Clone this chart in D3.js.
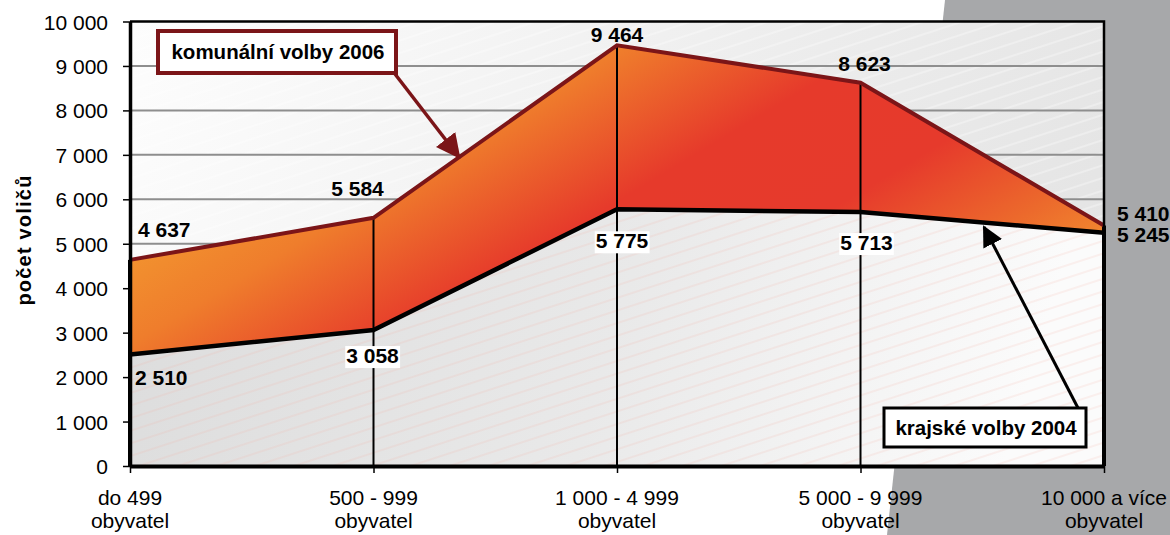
<!DOCTYPE html>
<html>
<head>
<meta charset="utf-8">
<script src="https://cdn.jsdelivr.net/npm/d3@7"></script>
<style>
  html, body { margin: 0; padding: 0; background: #fff; }
  svg { display: block; font-family: "Liberation Sans", Arial, sans-serif; }
</style>
</head>
<body>
<div id="chart"></div>
<script>
// Data
const categories = ["do 499", "500 - 999", "1 000 - 4 999", "5 000 - 9 999", "10 000 a více"];
const categoryUnit = "obyvatel";
const komunalni2006 = [4637, 5584, 9464, 8623, 5410];
const krajske2004 = [2510, 3058, 5775, 5713, 5245];
const yTicks = [0, 1000, 2000, 3000, 4000, 5000, 6000, 7000, 8000, 9000, 10000];
const yTitle = "počet voličů";
const seriesNames = ["komunální volby 2006", "krajské volby 2004"];

// Umístění popisků (ručně jako v Excelu)
const upperLabelPos = [
  { dx: 8, dy: -23, anchor: "start" },
  { dx: -16, dy: -22, anchor: "middle" },
  { dx: 0, dy: -3, anchor: "middle" },
  { dx: 4, dy: -12, anchor: "middle" },
  { dx: 13, dy: -5, anchor: "start" }
];
const lowerLabelPos = [
  { dx: 5, dy: 31, anchor: "start", box: false },
  { dx: -1, dy: 33, anchor: "middle", box: true },
  { dx: 5, dy: 39, anchor: "middle", box: true },
  { dx: 6, dy: 38, anchor: "middle", box: true },
  { dx: 13, dy: 9, anchor: "start", box: false }
];

const W = 1170, H = 535;
const plotLeft = 130, plotRight = 1104, plotTop = 21.5, plotBottom = 466;

const svg = d3.select("#chart").append("svg")
  .attr("width", W).attr("height", H);

const locale = d3.formatLocale({ decimal: ",", thousands: " ", grouping: [3], currency: ["", " Kč"] });
const fmt = locale.format(",d");

const x = d3.scalePoint().domain(categories).range([plotLeft, plotRight]).padding(0);
const y = d3.scaleLinear().domain([0, 10000]).range([plotBottom, plotTop]);

// Definice přechodů a vzorů
const defs = svg.append("defs");

const bgGrad = defs.append("linearGradient").attr("id", "bgGrad")
  .attr("gradientUnits", "userSpaceOnUse")
  .attr("x1", plotLeft).attr("y1", plotTop).attr("x2", plotRight).attr("y2", plotBottom);
bgGrad.append("stop").attr("offset", 0).attr("stop-color", "#fdfdfd");
bgGrad.append("stop").attr("offset", 0.6).attr("stop-color", "#ececec");
bgGrad.append("stop").attr("offset", 1).attr("stop-color", "#e2e2e2");

const lowGrad = defs.append("linearGradient").attr("id", "lowGrad")
  .attr("gradientUnits", "userSpaceOnUse")
  .attr("x1", plotLeft).attr("y1", y(6000)).attr("x2", plotRight - 100).attr("y2", plotBottom);
lowGrad.append("stop").attr("offset", 0).attr("stop-color", "#dcdcdc");
lowGrad.append("stop").attr("offset", 0.55).attr("stop-color", "#e9e9e9");
lowGrad.append("stop").attr("offset", 1).attr("stop-color", "#fbfbfb");

const bandGrad = defs.append("linearGradient").attr("id", "bandGrad")
  .attr("gradientUnits", "userSpaceOnUse")
  .attr("x1", 500).attr("y1", 0).attr("x2", 800).attr("y2", 500);
bandGrad.append("stop").attr("offset", 0).attr("stop-color", "#f39a30");
bandGrad.append("stop").attr("offset", 0.18).attr("stop-color", "#ef7d2c");
bandGrad.append("stop").attr("offset", 0.4).attr("stop-color", "#e63a2b");
bandGrad.append("stop").attr("offset", 0.6).attr("stop-color", "#e63a2c");
bandGrad.append("stop").attr("offset", 0.78).attr("stop-color", "#ec6a2c");
bandGrad.append("stop").attr("offset", 0.92).attr("stop-color", "#f39230");

const hatch = defs.append("pattern").attr("id", "hatch")
  .attr("patternUnits", "userSpaceOnUse")
  .attr("width", 24).attr("height", 12)
  .attr("patternTransform", "rotate(-18)");
hatch.append("line").attr("x1", 0).attr("x2", 24).attr("y1", 6).attr("y2", 6)
  .attr("stroke", "#f2b0a0").attr("stroke-width", 0.8).attr("opacity", 0.4);

const hatchBg = defs.append("pattern").attr("id", "hatchBg")
  .attr("patternUnits", "userSpaceOnUse")
  .attr("width", 24).attr("height", 12)
  .attr("patternTransform", "rotate(-18)");
hatchBg.append("line").attr("x1", 0).attr("x2", 24).attr("y1", 6).attr("y2", 6)
  .attr("stroke", "#ffffff").attr("stroke-width", 1).attr("opacity", 0.6);

const arrowRed = defs.append("marker").attr("id", "arrowRed")
  .attr("viewBox", "0 0 10 10").attr("refX", 9).attr("refY", 5)
  .attr("markerWidth", 7).attr("markerHeight", 7).attr("markerUnits", "strokeWidth")
  .attr("orient", "auto");
arrowRed.append("path").attr("d", "M0,0L10,5L0,10z").attr("fill", "#7b1518");

const arrowBlack = defs.append("marker").attr("id", "arrowBlack")
  .attr("viewBox", "0 0 10 10").attr("refX", 9).attr("refY", 5)
  .attr("markerWidth", 7).attr("markerHeight", 7).attr("markerUnits", "strokeWidth")
  .attr("orient", "auto");
arrowBlack.append("path").attr("d", "M0,0L10,5L0,10z").attr("fill", "#000");

// Šedé pozadí vpravo
svg.append("path")
  .attr("d", "M945,0L1170,0L1170,535L887,535Z")
  .attr("fill", "#a7a8aa");

// Plocha grafu
svg.append("rect").attr("x", plotLeft).attr("y", plotTop)
  .attr("width", plotRight - plotLeft).attr("height", plotBottom - plotTop)
  .attr("fill", "url(#bgGrad)");
svg.append("rect").attr("x", plotLeft).attr("y", plotTop)
  .attr("width", plotRight - plotLeft).attr("height", plotBottom - plotTop)
  .attr("fill", "url(#hatchBg)");

// Mřížka
svg.selectAll("line.grid")
  .data(yTicks.filter(d => d > 0 && d < 10000))
  .enter().append("line")
  .attr("class", "grid")
  .attr("x1", plotLeft).attr("x2", plotRight)
  .attr("y1", d => y(d)).attr("y2", d => y(d))
  .attr("stroke", "#8e8e8e").attr("stroke-width", 2);

// Plocha pod krajskými volbami
const lowArea = d3.area()
  .x((d, i) => x(categories[i]))
  .y0(y(0))
  .y1(d => y(d));
svg.append("path").datum(krajske2004).attr("d", lowArea).attr("fill", "url(#lowGrad)");
svg.append("path").datum(krajske2004).attr("d", lowArea).attr("fill", "url(#hatch)");

// Pásmo mezi řadami
const band = d3.area()
  .x((d, i) => x(categories[i]))
  .y0((d, i) => y(krajske2004[i]))
  .y1(d => y(d));
svg.append("path").datum(komunalni2006).attr("d", band).attr("fill", "url(#bandGrad)");

// Svislé čáry
svg.selectAll("line.drop")
  .data(komunalni2006)
  .enter().append("line")
  .attr("class", "drop")
  .attr("x1", (d, i) => x(categories[i])).attr("x2", (d, i) => x(categories[i]))
  .attr("y1", d => y(d)).attr("y2", y(0))
  .attr("stroke", "#000")
  .attr("stroke-width", (d, i) => (i === 0 || i === categories.length - 1) ? 4 : 2);

// Čáry řad
const line = d3.line().x((d, i) => x(categories[i])).y(d => y(d));
svg.append("path").datum(krajske2004).attr("d", line)
  .attr("fill", "none").attr("stroke", "#000").attr("stroke-width", 4.5)
  .attr("stroke-linejoin", "miter");
svg.append("path").datum(komunalni2006).attr("d", line)
  .attr("fill", "none").attr("stroke", "#7b1518").attr("stroke-width", 4)
  .attr("stroke-linejoin", "miter");

// Rám
svg.append("path")
  .attr("d", `M${plotLeft},${plotTop}L${plotRight},${plotTop}L${plotRight},${plotBottom}`)
  .attr("fill", "none").attr("stroke", "#000").attr("stroke-width", 2.5);

// Osa Y
const yAxis = svg.append("g")
  .attr("transform", `translate(${plotLeft},0)`)
  .call(d3.axisLeft(y).tickValues(yTicks).tickFormat(fmt).tickSize(7).tickSizeOuter(0).tickPadding(15));
yAxis.select(".domain").attr("stroke", "#000").attr("stroke-width", 3.5);
yAxis.selectAll(".tick line").attr("stroke", "#000").attr("stroke-width", 1.5);
yAxis.selectAll(".tick text")
  .attr("fill", "#000")
  .style("font-size", "21px")
  .attr("dy", "0.36em");

// Osa X
const xAxis = svg.append("g")
  .attr("transform", `translate(0,${plotBottom})`)
  .call(d3.axisBottom(x).tickSize(7).tickSizeOuter(0).tickFormat(""));
xAxis.select(".domain").attr("stroke", "#000").attr("stroke-width", 4);
xAxis.selectAll(".tick line").attr("stroke", "#000").attr("stroke-width", 1.5);

const xLabels = svg.append("g").attr("class", "x-labels")
  .style("font-size", "21px").attr("fill", "#000").attr("text-anchor", "middle");
xLabels.selectAll("text.cat1")
  .data(categories).enter().append("text")
  .attr("class", "cat1")
  .attr("x", d => x(d)).attr("y", 505)
  .text(d => d);
xLabels.selectAll("text.cat2")
  .data(categories).enter().append("text")
  .attr("class", "cat2")
  .attr("x", d => x(d)).attr("y", 528)
  .text(categoryUnit);

// Název osy Y
svg.append("text")
  .attr("transform", "translate(31,240) rotate(-90)")
  .attr("text-anchor", "middle")
  .style("font-size", "20px").style("font-weight", "bold")
  .style("letter-spacing", "1.2px")
  .text(yTitle);

// Popisky hodnot
const labels = svg.append("g").style("font-size", "21px").style("font-weight", "bold");

labels.selectAll("text.up")
  .data(komunalni2006).enter().append("text")
  .attr("class", "up")
  .attr("x", (d, i) => x(categories[i]) + upperLabelPos[i].dx)
  .attr("y", (d, i) => y(d) + upperLabelPos[i].dy)
  .attr("text-anchor", (d, i) => upperLabelPos[i].anchor)
  .text(d => fmt(d));

const lowG = labels.selectAll("g.low")
  .data(krajske2004).enter().append("g").attr("class", "low");
lowG.append("rect").attr("fill", "#fff");
lowG.append("text")
  .attr("x", (d, i) => x(categories[i]) + lowerLabelPos[i].dx)
  .attr("y", (d, i) => y(d) + lowerLabelPos[i].dy)
  .attr("text-anchor", (d, i) => lowerLabelPos[i].anchor)
  .text(d => fmt(d));
lowG.each(function(d, i) {
  const g = d3.select(this);
  if (!lowerLabelPos[i].box) { g.select("rect").remove(); return; }
  const bb = g.select("text").node().getBBox();
  g.select("rect")
    .attr("x", bb.x - 1).attr("y", bb.y + 2)
    .attr("width", bb.width + 2).attr("height", bb.height - 1);
});

// Popisky řad s šipkami
svg.append("line")
  .attr("x1", 395).attr("y1", 74).attr("x2", 459).attr("y2", 157)
  .attr("stroke", "#7b1518").attr("stroke-width", 3.5)
  .attr("marker-end", "url(#arrowRed)");
svg.append("rect")
  .attr("x", 158).attr("y", 31).attr("width", 238).attr("height", 42)
  .attr("fill", "#fff").attr("stroke", "#7b1518").attr("stroke-width", 4);
svg.append("text")
  .attr("x", 278).attr("y", 59).attr("text-anchor", "middle")
  .style("font-size", "20.5px").style("font-weight", "bold")
  .text(seriesNames[0]);

svg.append("line")
  .attr("x1", 1078).attr("y1", 408).attr("x2", 984).attr("y2", 227)
  .attr("stroke", "#000").attr("stroke-width", 3)
  .attr("marker-end", "url(#arrowBlack)");
svg.append("rect")
  .attr("x", 884).attr("y", 408).attr("width", 202).attr("height", 39)
  .attr("fill", "#fff").attr("stroke", "#000").attr("stroke-width", 3);
svg.append("text")
  .attr("x", 986).attr("y", 435).attr("text-anchor", "middle")
  .style("font-size", "20.5px").style("font-weight", "bold")
  .text(seriesNames[1]);
</script>
</body>
</html>
